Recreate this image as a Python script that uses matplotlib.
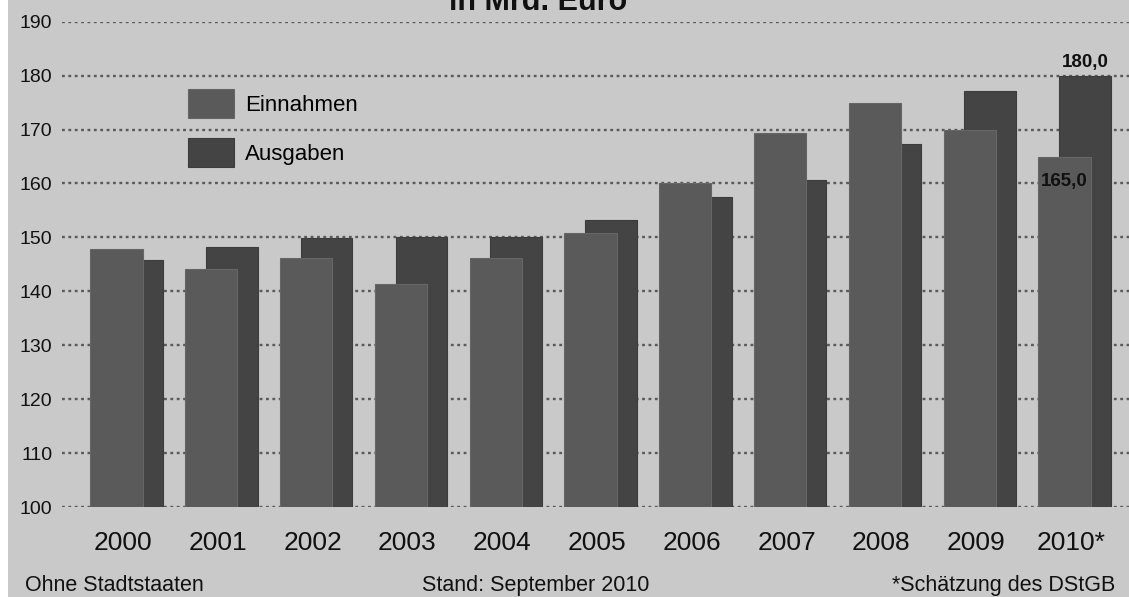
import matplotlib
matplotlib.use("Agg")
import matplotlib.pyplot as plt
import numpy as np
from matplotlib.patches import Rectangle

years = ["2000", "2001", "2002", "2003", "2004", "2005", "2006", "2007", "2008", "2009", "2010*"]
einnahmen = [147.8, 144.1, 146.1, 141.4, 146.1, 150.9, 160.0, 169.3, 174.9, 170.0, 165.0]
ausgaben = [145.8, 148.2, 149.9, 150.0, 150.1, 153.2, 157.4, 160.6, 167.3, 177.2, 180.0]
yticks = [100, 110, 120, 130, 140, 150, 160, 170, 180, 190]
series_labels = ["Einnahmen", "Ausgaben"]

BG = "#c9c9c9"
C_EIN = "#5a5a5a"
C_AUS = "#444444"
FONT = ["Liberation Sans", "DejaVu Sans"]
plt.rcParams["font.family"] = FONT

W, H = 1129, 597
fig = plt.figure(figsize=(W / 100, H / 100), dpi=100, facecolor=BG)
fig.patches.append(Rectangle((0, 0), 8 / W, 1, transform=fig.transFigure,
                             facecolor="white", edgecolor="none", zorder=0))

ax_left, ax_bottom, ax_top = 62, 507, 21.7
ax = fig.add_axes([ax_left / W, 1 - ax_bottom / H, 1 - ax_left / W, (ax_bottom - ax_top) / H])
ax.set_facecolor(BG)

x = np.arange(len(years))
spacing = 94.8
ax.set_xlim((ax_left - 123) / spacing, (W - 123) / spacing)
ax.set_ylim(100, 190)

b_aus = ax.bar(x + 0.148, [v - 100 for v in ausgaben], bottom=100, width=0.545,
               color=C_AUS, edgecolor="#3c3c3c", linewidth=0.8, zorder=2, label=series_labels[1])
b_ein = ax.bar(x - 0.068, [v - 100 for v in einnahmen], bottom=100, width=0.55,
               color=C_EIN, edgecolor="#666666", linewidth=0.8, zorder=3, label=series_labels[0])

ax.set_yticks(yticks)
ax.yaxis.grid(True, linestyle=(0, (1.2, 1.5)), linewidth=1.7, color="#5a5a5a", zorder=1)
ax.set_axisbelow(True)
for s in ax.spines.values():
    s.set_visible(False)
ax.tick_params(axis="y", length=0, pad=7, labelsize=14, colors="#111111")
ax.set_xticks(x)
ax.set_xticklabels(years)
ax.tick_params(axis="x", length=0, pad=17, labelsize=19, colors="#111111")

# value labels
ax.annotate("180,0", (x[-1] + 0.148, ausgaben[-1]), xytext=(0, 6.5), textcoords="offset points",
            ha="center", va="baseline", fontsize=13.5, fontweight="bold", color="#111111", zorder=5)
ax.annotate("165,0", (x[-1] - 0.068, einnahmen[-1]), xytext=(0, -21.4), textcoords="offset points",
            ha="center", va="baseline", fontsize=13.5, fontweight="bold", color="#111111", zorder=5)

leg = ax.legend(handles=[b_ein, b_aus], labels=series_labels, loc="upper left",
                bbox_to_anchor=(188 / W, 1 - 89 / H), bbox_transform=fig.transFigure,
                frameon=False, fontsize=16, handlelength=2.07, handleheight=1.6,
                handletextpad=0.5, labelspacing=0.92, borderpad=0, borderaxespad=0)

# title (cut off at top, as in the source)
fig.text(538 / W, 1 - 10 / H, "in Mrd. Euro", ha="center", va="baseline",
         fontsize=22, fontweight="bold", color="#111111")

# footer texts
fig.text(25 / W, 1 - 591 / H, "Ohne Stadtstaaten", ha="left", va="baseline", fontsize=15.5, color="#111111")
fig.text(536 / W, 1 - 591 / H, "Stand: September 2010", ha="center", va="baseline", fontsize=15.5, color="#111111")
fig.text(1115 / W, 1 - 591 / H, "*Schätzung des DStGB", ha="right", va="baseline", fontsize=15.5, color="#111111")

fig.savefig("out.png", dpi=100, facecolor=BG)
